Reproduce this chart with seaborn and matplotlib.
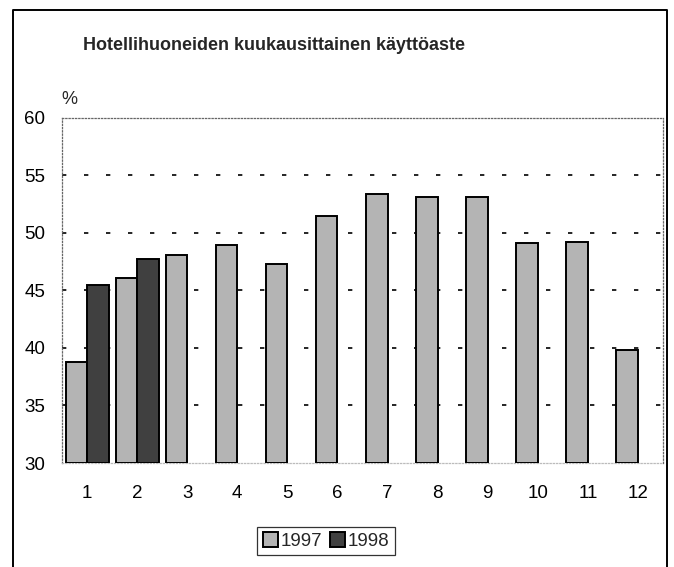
import matplotlib
matplotlib.use("Agg")
import matplotlib.pyplot as plt
import seaborn as sns
import pandas as pd
from matplotlib.lines import Line2D

months = ["1", "2", "3", "4", "5", "6", "7", "8", "9", "10", "11", "12"]
values_1997 = [38.8, 46.1, 48.1, 48.9, 47.3, 51.5, 53.4, 53.1, 53.1, 49.1, 49.2, 39.8]
months_1998 = ["1", "2"]
values_1998 = [45.5, 47.7]
years = ["1997", "1998"]
title = "Hotellihuoneiden kuukausittainen käyttöaste"
yticks = [30, 35, 40, 45, 50, 55, 60]

df = pd.concat([
    pd.DataFrame({"month": months, "year": "1997", "value": values_1997}),
    pd.DataFrame({"month": months_1998, "year": "1998", "value": values_1998}),
], ignore_index=True)

sns.set_style("white")
plt.rcParams["font.family"] = ["Liberation Sans", "DejaVu Sans"]

fig = plt.figure(figsize=(6.74, 5.67), dpi=100)
ax = fig.add_axes([62/674, 1-463/567, (663-62)/674, (463-117.7)/567])

palette = {"1997": "#b4b4b4", "1998": "#404040"}
sns.barplot(data=df, x="month", y="value", hue="year", order=months,
            hue_order=years, palette=palette, errorbar=None, width=0.86,
            gap=0, saturation=1, edgecolor="black", linewidth=1.4, ax=ax,
            zorder=3)

ymin = 30
for p in ax.patches:
    h = p.get_height()
    if h == h and h > 0:
        p.set_y(ymin)
        p.set_height(h - ymin)

ax.set_ylim(30, 60)
ax.set_xlim(-0.5, 11.5)
ax.set_yticks(yticks)
ax.set_xlabel("")
ax.set_ylabel("")
for y in [35, 40, 45, 50, 55]:
    ax.axhline(y, color="black", lw=1.2, linestyle=(0, (2.6, 10.6)), zorder=1)

for s in ax.spines.values():
    s.set_visible(True)
    s.set_color("#666666")
    s.set_linewidth(0.9)
    s.set_linestyle((0, (1, 1.6)))
ax.spines["bottom"].set_color("#bbbbbb")

ax.tick_params(axis="both", length=0, labelsize=13.5, colors="black")
ax.tick_params(axis="x", pad=16)
ax.tick_params(axis="y", pad=12)

handles, labels = ax.get_legend_handles_labels()
if ax.get_legend() is not None:
    ax.get_legend().remove()
leg = fig.legend(handles, labels, loc="center", ncol=2,
                 bbox_to_anchor=(326/674, 1-541/567), fontsize=13.5,
                 frameon=True, fancybox=False, edgecolor="black",
                 handlelength=0.8, handleheight=0.8, handletextpad=0.15,
                 columnspacing=0.4, borderpad=0.3, borderaxespad=0)
leg.get_frame().set_linewidth(0.9)

fig.text(83/674, 1-46/567, title, fontsize=13, fontweight="bold",
         ha="left", va="center")
fig.text(61/674, 1-100/567, "%", fontsize=13, ha="left", va="center")

# outer frame (left, top, right)
x0, x1, yt = 13/674, 667/674, 1-10/567
fig.add_artist(Line2D([x0, x0, x1, x1], [0, yt, yt, 0], color="black",
                      lw=1.4, transform=fig.transFigure))

fig.savefig("out.png", dpi=100)
